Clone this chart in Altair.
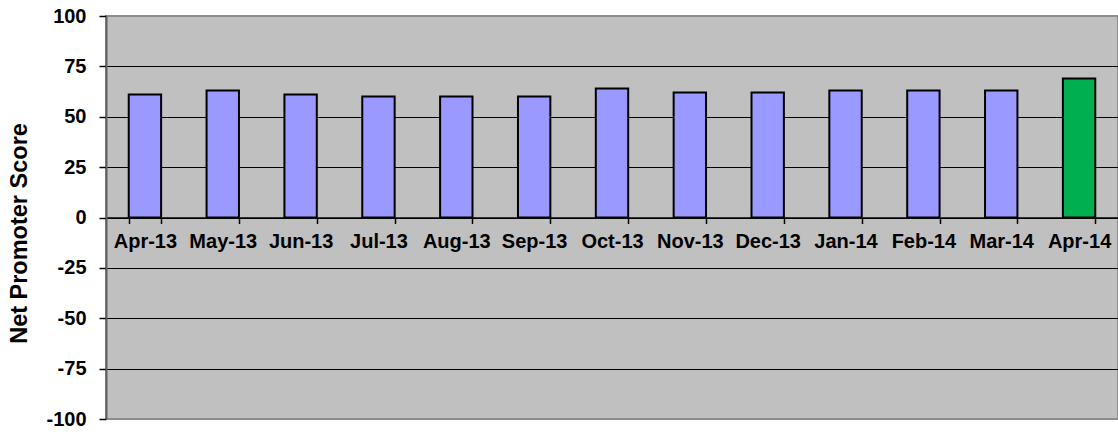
import altair as alt
import pandas as pd

months = ["Apr-13", "May-13", "Jun-13", "Jul-13", "Aug-13", "Sep-13", "Oct-13",
          "Nov-13", "Dec-13", "Jan-14", "Feb-14", "Mar-14", "Apr-14"]
nps = [61, 63, 61, 60, 60, 60, 64, 62, 62, 63, 63, 63, 69]
highlight_month = "Apr-14"
y_ticks = [-100, -75, -50, -25, 0, 25, 50, 75, 100]

df = pd.DataFrame({"month": months, "nps": nps})

FONT = "Liberation Sans"

chart = alt.Chart(df).mark_bar(stroke="black", strokeWidth=2).encode(
    x=alt.X(
        "month:N",
        sort=months,
        scale=alt.Scale(paddingInner=0.584, paddingOuter=0.292),
        axis=alt.Axis(
            title=None, labelAngle=0, labelFont=FONT, labelFontSize=20,
            labelFontWeight="bold", labelColor="black", offset=-201.5,
            domain=True, domainColor="black", domainWidth=1.5,
            ticks=True, tickBand="extent", tickColor="black", tickSize=6,
            tickWidth=1.5, labelPadding=8, grid=False,
        ),
    ),
    y=alt.Y(
        "nps:Q",
        scale=alt.Scale(domain=[-100, 100], nice=False),
        axis=alt.Axis(
            values=y_ticks, title="Net Promoter Score",
            labelExpr="toString(datum.value)",
            titleFont=FONT, titleFontSize=23.5, titleFontWeight="bold",
            titleColor="black", titleAngle=270, titleX=-87, titleY=217,
            titleAlign="center", titleBaseline="middle",
            labelFont=FONT, labelFontSize=20, labelFontWeight="bold",
            labelColor="black", labelPadding=13,
            domainColor="#606060", domainWidth=2,
            tickColor="black", tickSize=7, tickWidth=1.5,
            grid=True, gridWidth=1.2,
            gridColor={"condition": {"test": "abs(datum.value) == 100", "value": "#8c8c8c"},
                       "value": "black"},
        ),
    ),
    color=alt.condition(alt.datum.month == highlight_month,
                        alt.value("#00B050"), alt.value("#9999FF")),
).properties(
    width=1012,
    height=403,
    autosize=alt.AutoSizeParams(type="none"),
    padding={"left": 106, "top": 16, "right": 0, "bottom": 13},
    background="white",
).configure_view(
    fill="#C0C0C0", stroke="#8C8C8C", strokeWidth=2,
)

chart.save("out.html", embed_options={"renderer": "svg", "actions": False})
